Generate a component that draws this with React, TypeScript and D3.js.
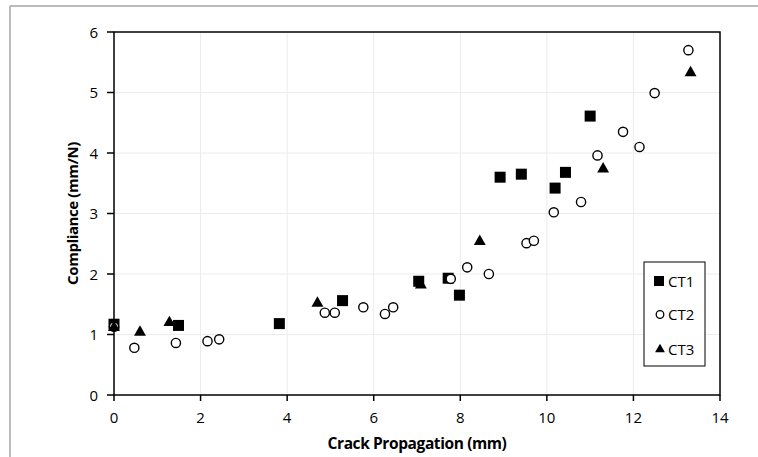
import React from "react";
import * as d3 from "d3";

const ct1X = [0, 1.49, 3.82, 5.28, 7.04, 7.72, 7.98, 8.92, 9.41, 10.19, 10.43, 11.0];
const ct1Y = [1.17, 1.15, 1.18, 1.56, 1.88, 1.93, 1.65, 3.6, 3.65, 3.42, 3.68, 4.61];

const ct2X = [0, 0.47, 1.43, 2.16, 2.43, 4.87, 5.1, 5.76, 6.26, 6.45, 7.78, 8.16, 8.66, 9.53, 9.7, 10.16, 10.79, 11.17, 11.76, 12.14, 12.49, 13.27];
const ct2Y = [1.13, 0.78, 0.86, 0.89, 0.92, 1.36, 1.36, 1.45, 1.34, 1.45, 1.92, 2.11, 2.0, 2.51, 2.55, 3.02, 3.19, 3.96, 4.35, 4.1, 4.99, 5.7];

const ct3X = [0, 0.6, 1.28, 4.7, 7.09, 8.45, 11.3, 13.32];
const ct3Y = [1.13, 1.05, 1.21, 1.53, 1.83, 2.55, 3.75, 5.34];

const xTicks = [0, 2, 4, 6, 8, 10, 12, 14];
const yTicks = [0, 1, 2, 3, 4, 5, 6];
const seriesNames = ["CT1", "CT2", "CT3"];

const W = 758;
const H = 457;
const L = 114, R = 720, T = 32, B = 395;

export default function App() {
  const x = d3.scaleLinear().domain([0, 14]).range([L, R]);
  const y = d3.scaleLinear().domain([0, 6]).range([B, T]);
  const font = "'Open Sans', 'Noto Sans', sans-serif";
  const sq = 11;
  const tri = d3.symbol().type(d3.symbolTriangle).size(62)() as string;

  const marker = (i: number, cx: number, cy: number, key: string) => {
    if (i === 0)
      return <rect key={key} x={cx - sq / 2} y={cy - sq / 2} width={sq} height={sq} fill="#000" />;
    if (i === 1)
      return <circle key={key} cx={cx} cy={cy} r={4.6} fill="#fff" stroke="#000" strokeWidth={1.4} />;
    return <path key={key} d={tri} transform={`translate(${cx},${cy + 0.8})`} fill="#000" />;
  };

  const series = [
    { xs: ct1X, ys: ct1Y },
    { xs: ct2X, ys: ct2Y },
    { xs: ct3X, ys: ct3Y },
  ];

  return (
    <svg width={W} height={H} style={{ position: "absolute", left: 0, top: 0, background: "#fff" }}>
      <rect x={0} y={0} width={W} height={H} fill="#fff" />
      <line x1={10} y1={6} x2={10} y2={H + 5} stroke="#a6a6a6" strokeWidth={1.5} />
      <line x1={10} y1={6} x2={W + 5} y2={6} stroke="#a6a6a6" strokeWidth={1.5} />
      {xTicks.slice(1, -1).map((t) => (
        <line key={"gx" + t} x1={x(t)} x2={x(t)} y1={T} y2={B} stroke="#ececec" strokeWidth={1} />
      ))}
      {yTicks.slice(1, -1).map((t) => (
        <line key={"gy" + t} x1={L} x2={R} y1={y(t)} y2={y(t)} stroke="#ececec" strokeWidth={1} />
      ))}
      <rect x={L} y={T} width={R - L} height={B - T} fill="none" stroke="#000" strokeWidth={1.5} />
      {xTicks.map((t) => (
        <g key={"xt" + t}>
          <line x1={x(t)} x2={x(t)} y1={B} y2={B + 6} stroke="#000" strokeWidth={1.5} />
          <text x={x(t)} y={B + 28} textAnchor="middle" fontFamily={font} fontSize={15} fill="#000">
            {t}
          </text>
        </g>
      ))}
      {yTicks.map((t) => (
        <g key={"yt" + t}>
          <line x1={L - 7} x2={L} y1={y(t)} y2={y(t)} stroke="#000" strokeWidth={1.5} />
          <text x={L - 16} y={y(t) + 5.5} textAnchor="end" fontFamily={font} fontSize={15} fill="#000">
            {t}
          </text>
        </g>
      ))}
      {series.map((s, i) => (
        <g key={"s" + i}>{s.xs.map((v, j) => marker(i, x(v), y(s.ys[j]), `m${i}-${j}`))}</g>
      ))}
      <text
        x={(L + R) / 2}
        y={449}
        textAnchor="middle"
        fontFamily={font}
        fontSize={15.5}
        fontWeight="bold"
        letterSpacing={-0.4}
        fill="#000"
      >
        Crack Propagation (mm)
      </text>
      <text
        transform={`translate(78,${(T + B) / 2}) rotate(-90)`}
        textAnchor="middle"
        fontFamily={font}
        fontSize={15}
        fontWeight="bold"
        letterSpacing={-0.4}
        fill="#000"
      >
        Compliance (mm/N)
      </text>
      <rect x={644} y={262} width={61} height={104} fill="#fff" stroke="#000" strokeWidth={1} />
      {seriesNames.map((n, i) => {
        const ly = [281, 314.5, 349][i];
        return (
          <g key={"lg" + n}>
            {i === 0 ? (
              <rect x={659 - 5} y={ly - 5} width={10} height={10} fill="#000" />
            ) : i === 1 ? (
              <circle cx={660} cy={ly} r={3.8} fill="#fff" stroke="#000" strokeWidth={1.3} />
            ) : (
              <path d={d3.symbol().type(d3.symbolTriangle).size(42)() as string} transform={`translate(660,${ly + 0.5})`} fill="#000" />
            )}
            <text x={668} y={ly + 5.5} fontFamily={font} fontSize={15} fill="#000">
              {n}
            </text>
          </g>
        );
      })}
    </svg>
  );
}
